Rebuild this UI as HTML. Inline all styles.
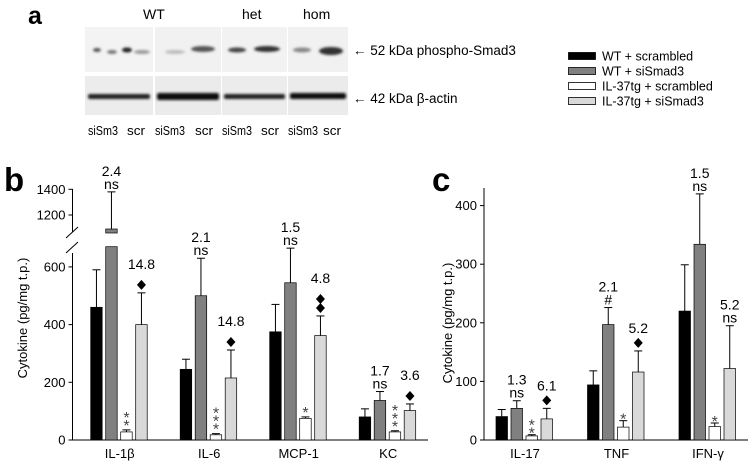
<!DOCTYPE html>
<html><head><meta charset="utf-8"><style>
html,body{margin:0;padding:0;background:#fff;}
svg{display:block;font-family:"Liberation Sans",Arial,sans-serif;}
</style></head><body>
<svg id="fig" width="750" height="465" viewBox="0 0 750 465">
<text x="28" y="24" font-size="25" font-weight="bold">a</text>
<g font-size="14">
<text x="143" y="19">WT</text>
<text x="242" y="19">het</text>
<text x="303" y="19">hom</text>
</g>
<defs>
<filter id="blur"><feGaussianBlur stdDeviation="1.3"/></filter>
</defs>
<g>
<rect x="85" y="27" width="68" height="45" fill="#f3f3f3"/>
<rect x="155" y="27" width="66" height="45" fill="#f1f1f1"/>
<rect x="222" y="27" width="65" height="45" fill="#f2f2f2"/>
<rect x="288" y="27" width="60" height="45" fill="#f1f1f1"/>
<rect x="85" y="76" width="68" height="39" fill="#ececec"/>
<rect x="155" y="76" width="66" height="39" fill="#ebebeb"/>
<rect x="222" y="76" width="65" height="39" fill="#ececec"/>
<rect x="288" y="76" width="60" height="39" fill="#ebebeb"/>
<g filter="url(#blur)">
<ellipse cx="97" cy="50" rx="4" ry="2" fill="#555"/>
<ellipse cx="112" cy="52" rx="5" ry="2" fill="#777"/>
<ellipse cx="127" cy="50" rx="5" ry="2.5" fill="#222"/>
<ellipse cx="142" cy="52" rx="8" ry="2" fill="#999"/>
<ellipse cx="175" cy="52" rx="10" ry="2" fill="#bbb"/>
<ellipse cx="203" cy="49" rx="12" ry="3" fill="#555"/>
<ellipse cx="237" cy="50" rx="9" ry="2.5" fill="#444"/>
<ellipse cx="267" cy="49" rx="13" ry="3" fill="#333"/>
<ellipse cx="302" cy="50" rx="9" ry="2.5" fill="#888"/>
<ellipse cx="331" cy="51" rx="12" ry="4" fill="#333"/>
<rect x="88" y="94" width="62" height="5" rx="2" fill="#222"/>
<rect x="157" y="93" width="62" height="7" rx="2" fill="#111"/>
<rect x="224" y="94" width="61" height="5" rx="2" fill="#222"/>
<rect x="290" y="93" width="56" height="6" rx="2" fill="#111"/>
</g>
</g>
<g font-size="13.5">
<text x="353" y="55">← 52 kDa phospho-Smad3</text>
<text x="353" y="103">← 42 kDa β-actin</text>
</g>
<g font-size="13">
<text x="88" y="135" textLength="30" lengthAdjust="spacingAndGlyphs">siSm3</text><text x="127" y="135" textLength="18" lengthAdjust="spacingAndGlyphs">scr</text>
<text x="155" y="135" textLength="30" lengthAdjust="spacingAndGlyphs">siSm3</text><text x="195" y="135" textLength="18" lengthAdjust="spacingAndGlyphs">scr</text>
<text x="222" y="135" textLength="30" lengthAdjust="spacingAndGlyphs">siSm3</text><text x="261" y="135" textLength="18" lengthAdjust="spacingAndGlyphs">scr</text>
<text x="288" y="135" textLength="30" lengthAdjust="spacingAndGlyphs">siSm3</text><text x="323" y="135" textLength="18" lengthAdjust="spacingAndGlyphs">scr</text>
</g>
<g id="legend" font-size="12.5"></g>
<text x="4" y="191" font-size="33" font-weight="bold">b</text>
<text x="432" y="191" font-size="33" font-weight="bold">c</text>
<g id="chartB"></g>
<g id="chartC"></g>
</svg>
<script>
const seriesNames = ["WT + scrambled","WT + siSmad3","IL-37tg + scrambled","IL-37tg + siSmad3"];
const fills = ["#000000","#808080","#ffffff","#d9d9d9"];
const catsB = ["IL-1β","IL-6","MCP-1","KC"];
const meanB = [[460,245,375,80],[1091,500,545,137],[28,18,75,28],[400,215,362,102]];
const errB = [[590,280,470,108],[1380,630,665,168],[35,22,80,32],[510,312,430,125]];
const ticksB = [0,200,400,600,1200,1400];
const annotB = [["2.4","ns"],["2.1","ns"],["1.5","ns"],["1.7","ns"]];
const annotB2 = ["14.8","14.8","4.8","3.6"];
const catsC = ["IL-17","TNF","IFN-γ"];
const meanC = [[40,94,220],[54,197,334],[7,22,23],[36,116,122]];
const errC = [[52,118,299],[67,226,420],[9,33,29],[54,152,195]];
const ticksC = [0,100,200,300,400];
const annotC = [["1.3","ns"],["2.1","#"],["1.5","ns"]];
const annotC2 = ["6.1","5.2","5.2"];

const NS="http://www.w3.org/2000/svg";
const FS=14, TS=13;
function mk(parent,tag,attrs,text){const e=document.createElementNS(NS,tag);for(const k in attrs)e.setAttribute(k,attrs[k]);if(text!==undefined)e.textContent=text;parent.appendChild(e);return e;}

const lg=document.getElementById('legend');
seriesNames.forEach((n,i)=>{
  const y=52+i*15;
  const r=mk(lg,'rect',{x:568.5,y:y+0.5,width:27,height:7,fill:fills[i],stroke:'#000','stroke-width':0.8});
  
  
  const t=mk(lg,'text',{x:602,y:y+8.5},n);
  
  
});

function diamond(g,cx,cy){const d=mk(g,'path',{d:`M${cx} ${cy-5}L${cx+4.5} ${cy}L${cx} ${cy+5}L${cx-4.5} ${cy}Z`,fill:'#000'});}
function stars(g,cx,ybottom,n){for(let k=0;k<n;k++){const s=mk(g,'text',{x:cx,y:ybottom+3-k*8,'text-anchor':'middle','font-size':16,fill:'#444'},'*');}}

const gB=document.getElementById('chartB');
const ax0B=72.5, baseB=440;
function yB(v){ if(v<=700) return baseB - v*0.2885; return 215 - (v-1200)*0.1285; }
const groupX0B=90.7, groupStepB=89.5, barW=11.5, barStep=15;
mk(gB,'line',{x1:ax0B,y1:189,x2:ax0B,y2:232,stroke:'#000'});
mk(gB,'line',{x1:ax0B,y1:253,x2:ax0B,y2:baseB,stroke:'#000'});
mk(gB,'path',{d:'M66 238L78 227M66 253L78 242',stroke:'#000',fill:'none'});
mk(gB,'line',{x1:ax0B,y1:baseB,x2:428,y2:baseB,stroke:'#000'});
ticksB.forEach(v=>{const y=yB(v);mk(gB,'line',{x1:ax0B-4,y1:y,x2:ax0B,y2:y,stroke:'#000'});
  const t=mk(gB,'text',{x:ax0B-7,y:y+4.5,'text-anchor':'end','font-size':TS},String(v));});
const ytB=mk(gB,'text',{transform:'translate(27,318) rotate(-90)','text-anchor':'middle','font-size':13},'Cytokine (pg/mg t.p.)');

catsB.forEach((c,gi)=>{
  const gx=groupX0B+gi*groupStepB;
  for(let s=0;s<4;s++){
    const x=gx+s*barStep, v=meanB[s][gi], e=errB[s][gi], cx=x+barW/2;
    const ye=yB(e);
    mk(gB,'line',{x1:cx,y1:yB(v),x2:cx,y2:ye,stroke:'#000'});
    mk(gB,'line',{x1:cx-4,y1:ye,x2:cx+4,y2:ye,stroke:'#000'});
    if(v>700){
      const b1=mk(gB,'rect',{x:x,y:yB(v),width:barW,height:233-yB(v),fill:fills[s],stroke:'#000','stroke-width':0.7});
      
      const b2=mk(gB,'rect',{x:x,y:246.7,width:barW,height:baseB-246.7,fill:fills[s],stroke:'#000','stroke-width':0.7});
      
    } else {
      const b=mk(gB,'rect',{x:x,y:yB(v),width:barW,height:baseB-yB(v),fill:fills[s],stroke:'#000','stroke-width':0.7});
      
    }
    if(s===1){const a=annotB[gi];
      mk(gB,'text',{x:cx,y:ye-16,'text-anchor':'middle','font-size':FS},a[0]);
      mk(gB,'text',{x:cx,y:ye-3,'text-anchor':'middle','font-size':FS},a[1]);}
    if(s===2){stars(gB,cx,ye-2,gi===2?1:(gi===0?2:3));}
    if(s===3){const nd=gi===2?2:1;for(let k=0;k<nd;k++)diamond(gB,cx,ye-8-k*9);
      mk(gB,'text',{x:cx,y:ye-12-nd*9-3,'text-anchor':'middle','font-size':FS},annotB2[gi]);}
  }
  const t=mk(gB,'text',{x:gx+29,y:458,'text-anchor':'middle','font-size':TS},c);
  
});

const gC=document.getElementById('chartC');
const ax0C=484, baseC=440;
function yC(v){return baseC - v*0.586;}
const groupX0C=496, groupStepC=91.5;
mk(gC,'line',{x1:ax0C,y1:188,x2:ax0C,y2:baseC,stroke:'#000'});
mk(gC,'line',{x1:ax0C,y1:baseC,x2:748,y2:baseC,stroke:'#000'});
ticksC.forEach(v=>{const y=yC(v);mk(gC,'line',{x1:ax0C-4,y1:y,x2:ax0C,y2:y,stroke:'#000'});
  const t=mk(gC,'text',{x:ax0C-7,y:y+4.5,'text-anchor':'end','font-size':TS},String(v));});
const ytC=mk(gC,'text',{transform:'translate(452,323) rotate(-90)','text-anchor':'middle','font-size':13},'Cytokine (pg/mg t.p.)');

catsC.forEach((c,gi)=>{
  const gx=groupX0C+gi*groupStepC;
  for(let s=0;s<4;s++){
    const x=gx+s*barStep, v=meanC[s][gi], e=errC[s][gi], cx=x+barW/2, ye=yC(e);
    mk(gC,'line',{x1:cx,y1:yC(v),x2:cx,y2:ye,stroke:'#000'});
    mk(gC,'line',{x1:cx-4,y1:ye,x2:cx+4,y2:ye,stroke:'#000'});
    const b=mk(gC,'rect',{x:x,y:yC(v),width:barW,height:baseC-yC(v),fill:fills[s],stroke:'#000','stroke-width':0.7});
    
    if(s===1){const a=annotC[gi];
      mk(gC,'text',{x:cx,y:ye-16,'text-anchor':'middle','font-size':FS},a[0]);
      mk(gC,'text',{x:cx,y:ye-3,'text-anchor':'middle','font-size':FS},a[1]);}
    if(s===2){stars(gC,cx,ye+1,gi===0?2:1);}
    if(s===3){
      if(gi===2){mk(gC,'text',{x:cx,y:ye-16,'text-anchor':'middle','font-size':FS},annotC2[gi]);
        mk(gC,'text',{x:cx,y:ye-3,'text-anchor':'middle','font-size':FS},'ns');}
      else{diamond(gC,cx,ye-8);mk(gC,'text',{x:cx,y:ye-18,'text-anchor':'middle','font-size':FS},annotC2[gi]);}
    }
  }
  const t=mk(gC,'text',{x:gx+29,y:458,'text-anchor':'middle','font-size':TS},c);
  
});
</script>
</body></html>
